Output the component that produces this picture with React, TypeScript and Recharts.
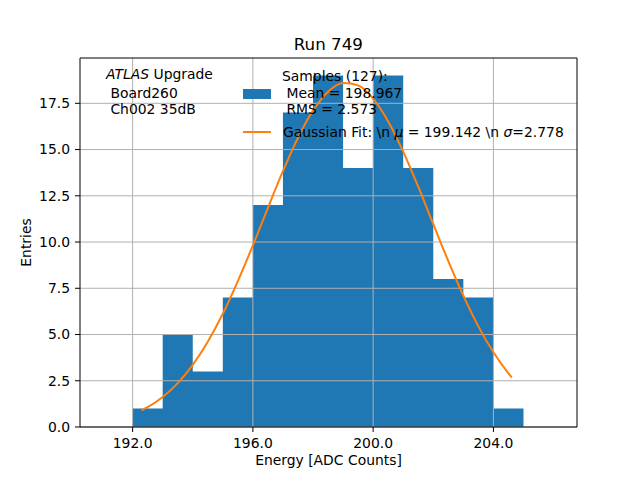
import React from 'react';
import {
  ComposedChart, Area, Line, XAxis, YAxis, CartesianGrid, ReferenceLine, Label,
} from 'recharts';

// histogram: bin edges and counts (127 samples)
const binEdges = [192, 193, 194, 195, 196, 197, 198, 199, 200, 201, 202, 203, 204, 205];
const binCounts = [1, 5, 3, 7, 12, 17, 19, 14, 19, 14, 8, 7, 1];

// gaussian fit curve
const fitX = [192.3, 192.5, 193, 193.5, 194, 194.5, 195, 195.5, 196, 196.5, 197, 197.5, 198, 198.5,
  199, 199.5, 200, 200.5, 201, 201.5, 202, 202.5, 203, 203.5, 204, 204.5, 204.61];
const fitY = [0.9, 1.07, 1.62, 2.37, 3.36, 4.61, 6.12, 7.89, 9.82, 11.85, 13.83, 15.64, 17.11, 18.13,
  18.6, 18.47, 17.75, 16.52, 14.89, 12.99, 10.97, 8.97, 7.1, 5.44, 4.04, 2.9, 2.68];

const xTicks = [192, 196, 200, 204];
const yTicks = [0, 2.5, 5, 7.5, 10, 12.5, 15, 17.5];

const X_DOMAIN: [number, number] = [190.25, 206.78];
const Y_DOMAIN: [number, number] = [0, 19.95];

const histData = binEdges.map((x, i) => ({ x, count: binCounts[Math.min(i, binCounts.length - 1)] }));
const fitData = fitX.map((x, i) => ({ x, fit: fitY[i] }));

const FONT = '"DejaVu Sans", sans-serif';
const BLUE = '#1f77b4';
const ORANGE = '#ff7f0e';

const tickStyle = { fill: '#000', fontSize: 13.9, fontFamily: FONT };
const MARGIN = { top: 58, right: 63, bottom: 13, left: 20 };

export default function App() {
  return (
    <div style={{ position: 'absolute', left: 0, top: 0, width: 640, height: 480, background: '#fff' }}>
      <ComposedChart width={640} height={480} data={histData} margin={MARGIN}>
        <XAxis
          dataKey="x"
          type="number"
          domain={X_DOMAIN}
          ticks={xTicks}
          allowDataOverflow
          tickFormatter={(v: number) => v.toFixed(1)}
          tick={tickStyle}
          tickSize={5}
          tickMargin={6}
          height={40}
          stroke="#000"
        >
          <Label value="Energy [ADC Counts]" position="insideBottom" offset={2}
            style={{ fill: '#000', fontSize: 13.9, fontFamily: FONT }} />
        </XAxis>
        <YAxis
          type="number"
          domain={Y_DOMAIN}
          ticks={yTicks}
          allowDataOverflow
          tickFormatter={(v: number) => v.toFixed(1)}
          tick={tickStyle}
          tickSize={5}
          tickMargin={5}
          width={60}
          stroke="#000"
        >
          <Label value="Entries" angle={-90} position="insideLeft" offset={6}
            style={{ fill: '#000', fontSize: 13.9, fontFamily: FONT, textAnchor: 'middle' }} />
        </YAxis>
        <Area
          dataKey="count"
          type="stepAfter"
          fill={BLUE}
          fillOpacity={1}
          stroke="none"
          isAnimationActive={false}
          zIndex={100}
        />
        <CartesianGrid stroke="#b0b0b0" strokeWidth={1} horizontalValues={yTicks} verticalValues={xTicks}
          zIndex={250} />
        <Line
          data={fitData}
          dataKey="fit"
          type="monotone"
          stroke={ORANGE}
          strokeWidth={2}
          dot={false}
          isAnimationActive={false}
          zIndex={400}
        />
        <ReferenceLine x={X_DOMAIN[1]} stroke="#000" strokeWidth={1} ifOverflow="visible" />
        <ReferenceLine y={Y_DOMAIN[1]} stroke="#000" strokeWidth={1} ifOverflow="visible" />
      </ComposedChart>
      <svg width={640} height={480} style={{ position: 'absolute', left: 0, top: 0, pointerEvents: 'none' }}
        fontFamily={FONT} fontSize={13.9} fill="#000">
        <text x={328.3} y={50} textAnchor="middle" fontSize={16.7}>Run 749</text>
        <text x={106} y={79} style={{ whiteSpace: 'pre' }}><tspan fontStyle="italic">ATLAS</tspan> Upgrade</text>
        <text x={106} y={97.5} style={{ whiteSpace: 'pre' }}> Board260</text>
        <text x={106} y={113.5} style={{ whiteSpace: 'pre' }}> Ch002 35dB</text>
        <rect x={243} y={89} width={28} height={10} fill={BLUE} />
        <text x={282} y={81} style={{ whiteSpace: 'pre' }}>Samples (127):</text>
        <text x={282} y={97.5} style={{ whiteSpace: 'pre' }}> Mean = 198.967</text>
        <text x={282} y={114} style={{ whiteSpace: 'pre' }}> RMS = 2.573</text>
        <line x1={243} x2={271} y1={132} y2={132} stroke={ORANGE} strokeWidth={2} />
        <text x={283} y={136.5} style={{ whiteSpace: 'pre' }}>
          Gaussian Fit: \n <tspan fontStyle="italic">μ</tspan> = 199.142 \n <tspan fontStyle="italic">σ</tspan>=2.778
        </text>
      </svg>
    </div>
  );
}
